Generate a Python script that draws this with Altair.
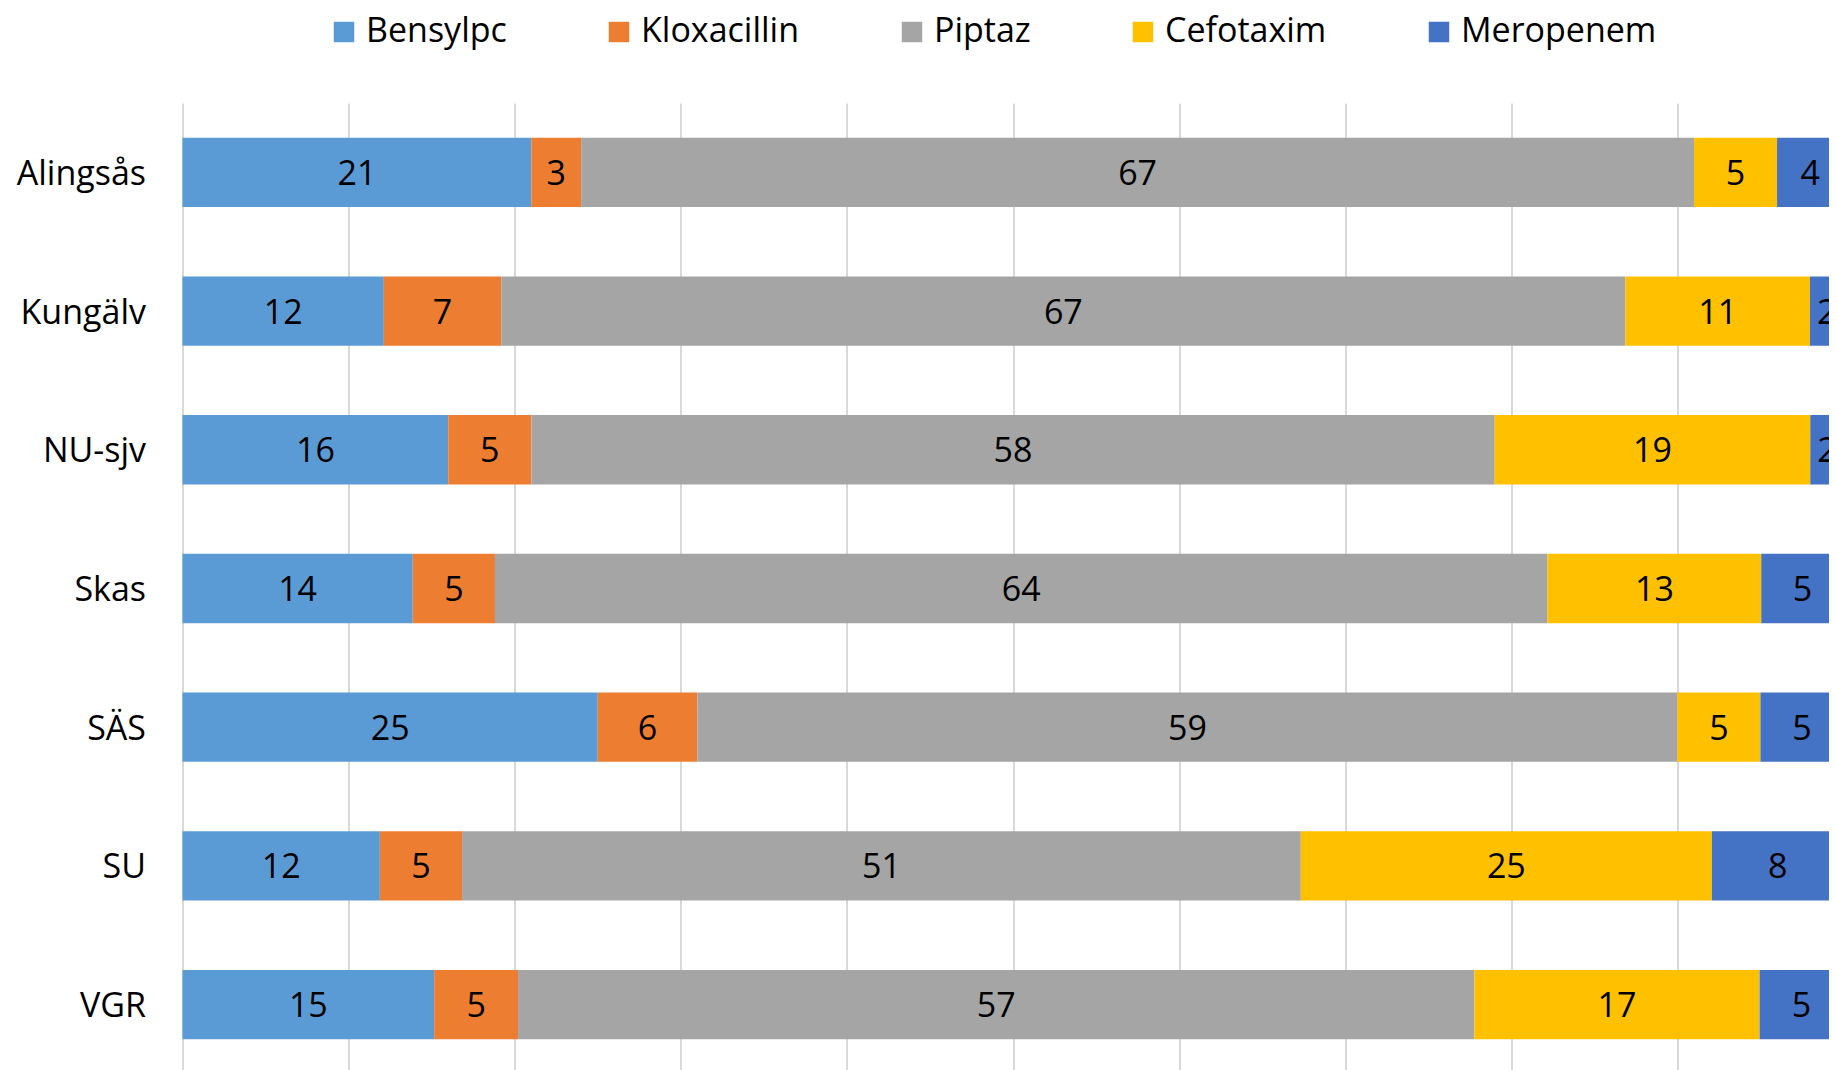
import altair as alt
import pandas as pd

sites = ["Alingsås", "Kungälv", "NU-sjv", "Skas", "SÄS", "SU", "VGR"]
drugs = ["Bensylpc", "Kloxacillin", "Piptaz", "Cefotaxim", "Meropenem"]
bensylpc = [21, 12, 16, 14, 25, 12, 15]
kloxacillin = [3, 7, 5, 5, 6, 5, 5]
piptaz = [67, 67, 58, 64, 59, 51, 57]
cefotaxim = [5, 11, 19, 13, 5, 25, 17]
meropenem = [4, 2, 2, 5, 5, 8, 5]
colors = ["#5B9BD5", "#ED7D31", "#A5A5A5", "#FFC000", "#4472C4"]
grid_values = [0, 0.1, 0.2, 0.3, 0.4, 0.5, 0.6, 0.7, 0.8, 0.9]

series = [bensylpc, kloxacillin, piptaz, cefotaxim, meropenem]
rows = []
for i, s in enumerate(sites):
    for j, d in enumerate(drugs):
        rows.append({"site": s, "drug": d, "order": j, "value": series[j][i]})
df = pd.DataFrame(rows)

FONT = "Open Sans"
FS = 34

base = alt.Chart(df).transform_stack(
    stack="value", groupby=["site"],
    sort=[alt.SortField("order", order="ascending")],
    as_=["x0", "x1"], offset="normalize",
).transform_calculate(mid="(datum.x0 + datum.x1) / 2")

xscale = alt.Scale(domain=[0, 0.99127], nice=False, zero=False)
yscale = alt.Scale(paddingInner=0.5, paddingOuter=0.236, align=0.53, round=False)

yenc = alt.Y(
    "site:N", sort=sites, scale=yscale,
    axis=alt.Axis(title=None, domain=False, ticks=False, grid=False,
                  labelFont=FONT, labelFontSize=FS, labelColor="black",
                  labelPadding=37, labelOffset=2.5),
)

bars = base.mark_bar().encode(
    y=yenc,
    x=alt.X("x0:Q", scale=xscale,
            axis=alt.Axis(title=None, labels=False, ticks=False, domain=False,
                          grid=True, gridColor="#D9D9D9", gridWidth=2,
                          values=grid_values)),
    x2="x1:Q",
    color=alt.Color("drug:N", scale=alt.Scale(domain=drugs, range=colors),
                    legend=alt.Legend(title=None, orient="none", legendX=144.5, legendY=-88,
                                      direction="horizontal", symbolType="square",
                                      symbolSize=420, symbolStrokeWidth=0,
                                      labelFont=FONT, labelFontSize=FS, labelColor="black",
                                      labelOffset=5, columnPadding=95, labelLimit=0)),
)

text = base.mark_text(font=FONT, fontSize=FS, color="black", baseline="middle", dy=2.5).encode(
    y=alt.Y("site:N", sort=sites, scale=yscale),
    x=alt.X("mid:Q", scale=xscale),
    text="value:Q",
)

chart = alt.layer(bars, text).properties(
    width=1646.5, height=967,
    autosize=alt.AutoSizeParams(type="none"),
    padding={"left": 174.5, "top": 95, "right": 0, "bottom": 0},
).configure_view(stroke=None)

chart.save("out.html", embed_options={"renderer": "svg", "actions": False})
